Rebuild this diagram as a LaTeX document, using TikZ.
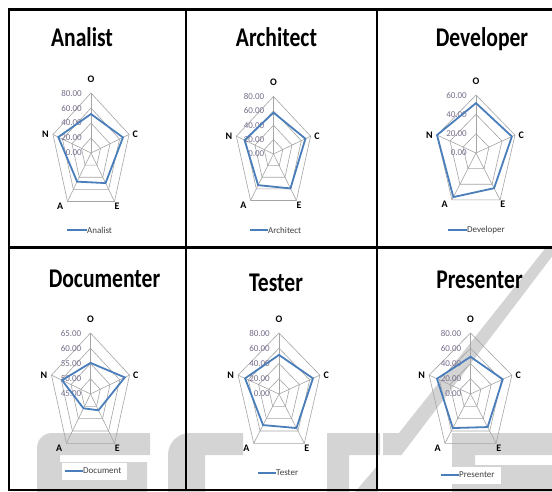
\documentclass[tikz,border=0pt]{standalone}
\usepackage{fontspec}
\setmainfont{Carlito}
\definecolor{serblue}{RGB}{74,126,187}
\definecolor{gridgray}{RGB}{165,165,165}
\definecolor{ticktext}{RGB}{120,110,140}
\definecolor{wmgray}{RGB}{212,212,212}
\tikzset{
  border/.style={line width=2.4pt, draw=black},
  gridline/.style={draw=gridgray, line width=0.6pt},
  series/.style={draw=serblue, line width=1.8pt, line join=miter},
  charttitle/.style={font=\fontsize{27}{30}\selectfont\bfseries, xscale=0.8, inner sep=0pt, anchor=base},
  axislab/.style={font=\fontsize{10}{11}\selectfont\bfseries, inner sep=1pt},
  ticklab/.style={font=\fontsize{9}{10}\selectfont, text=ticktext, anchor=east, inner sep=0pt, xshift=-9pt},
  legtext/.style={font=\fontsize{9}{10}\selectfont, text=black!75, anchor=west, inner sep=0pt},
  watermark/.style={fill=wmgray, draw=none},
}
\newcommand\radargrid[1]{%
  \foreach \k in {1,...,#1}{%
    \draw[gridline] (90:\k/#1) -- (18:\k/#1) -- (-54:\k/#1) -- (-126:\k/#1) -- (162:\k/#1) -- cycle;}%
  \foreach \a in {90,18,-54,-126,162} \draw[gridline] (0,0) -- (\a:1);%
}
\newcommand\radaxes[1]{%
  \node[axislab, anchor=south, yshift=9.5pt] (#1O) at (90:1) {O};
  \node[axislab, anchor=west, xshift=2.5pt] (#1C) at (18:1) {C};
  \node[axislab, anchor=north west, xshift=-1pt] (#1E) at (-54:1) {E};
  \node[axislab, anchor=north east, xshift=-3pt] (#1A) at (-126:1) {A};
  \node[axislab, anchor=east, xshift=-3pt] (#1N) at (162:1) {N};
}
\newcommand\radarseries[5]{%
  \draw[series] (90:#1) -- (18:#2) -- (-54:#3) -- (-126:#4) -- (162:#5) -- cycle;
}
\begin{document}
\begin{tikzpicture}[x=1pt,y=-1pt]
\useasboundingbox (0,0) rectangle (552,492);
\fill[white] (0,0) rectangle (552,492);

% ---------- watermark ----------
% S
\fill[watermark] (150,433) -- (52,433) to[out=180,in=90] (37,448) -- (37,492) -- (147,492) -- (147,462) -- (60,462) -- (60,455) -- (150,455) -- cycle;
% C
\fill[watermark] (168,492) -- (168,455) to[out=90,in=180] (190,433) -- (243,433) -- (243,455) -- (205,455) -- (205,492) -- cycle;
% T
\fill[watermark] (327,492) -- (327,433) -- (380,433) -- (380,455) -- (349,455) -- (349,492) -- cycle;
\fill[watermark] (355,492) -- (378,465) -- (378,492) -- cycle;
% slash
\fill[watermark] (545.5,248) -- (558.5,248) -- (401.5,455) -- (383,455) -- (383,433) -- (399,433) -- cycle;
% E
\fill[watermark] (452,492) -- (452,433) -- (552,433) -- (552,455) -- (475,455) -- (475,465) -- (552,465) -- (552,492) -- cycle;

% ---------- titles ----------
\node[charttitle] (tAn) at (82,47) {Analist};
\node[charttitle] (tAr) at (276.5,47) {Architect};
\node[charttitle] (tDe) at (482,47) {Developer};
\node[charttitle] (tDo) at (104.5,287) {Documenter};
\node[charttitle] (tTe) at (276,291) {Tester};
\node[charttitle] (tPr) at (479.5,288) {Presenter};

% ---------- Analist ----------
\begin{scope}[shift={(91,153)}, x=40pt, y=60pt]
  \radargrid{4}
  \foreach \i/\t in {0/0.00,1/20.00,2/40.00,3/60.00,4/80.00} \node[ticklab] (anT\i) at (0,\i/4) {\t};
  \radaxes{an}
  \radarseries{.65}{.84}{.62}{.59}{.86}
\end{scope}
% ---------- Architect ----------
\begin{scope}[shift={(273.5,154)}, x=39pt, y=57.5pt]
  \radargrid{4}
  \foreach \i/\t in {0/0.00,1/20.00,2/40.00,3/60.00,4/80.00} \node[ticklab] (arT\i) at (0,\i/4) {\t};
  \radaxes{ar}
  \radarseries{.72}{.86}{.74}{.67}{.78}
\end{scope}
% ---------- Developer ----------
\begin{scope}[shift={(476,153)}, x=41pt, y=58pt]
  \radargrid{3}
  \foreach \i/\t in {0/0.00,1/20.00,2/40.00,3/60.00} \node[ticklab] (deT\i) at (0,\i/3) {\t};
  \radaxes{de}
  \radarseries{.86}{.92}{.75}{.94}{1.0}
\end{scope}
% ---------- Documenter ----------
\begin{scope}[shift={(90.5,394)}, x=41pt, y=61pt]
  \radargrid{4}
  \foreach \i/\t in {0/45.00,1/50.00,2/55.00,3/60.00,4/65.00} \node[ticklab] (doT\i) at (0,\i/4) {\t};
  \radaxes{do}
  \radarseries{.51}{.88}{.33}{.29}{.73}
\end{scope}
% ---------- Tester ----------
\begin{scope}[shift={(279,394)}, x=43pt, y=61pt]
  \radargrid{4}
  \foreach \i/\t in {0/0.00,1/20.00,2/40.00,3/60.00,4/80.00} \node[ticklab] (teT\i) at (0,\i/4) {\t};
  \radaxes{te}
  \radarseries{.64}{.83}{.69}{.63}{.83}
\end{scope}
% ---------- Presenter ----------
\begin{scope}[shift={(470.5,394)}, x=43.5pt, y=61pt]
  \radargrid{4}
  \foreach \i/\t in {0/0.00,1/20.00,2/40.00,3/60.00,4/80.00} \node[ticklab] (prT\i) at (0,\i/4) {\t};
  \radaxes{pr}
  \radarseries{.61}{.78}{.67}{.69}{.81}
\end{scope}

% ---------- legends ----------
\fill[white] (62,463) rectangle (127,480);
\fill[white] (254,465) rectangle (304,482);
\fill[white] (437,467) rectangle (501,484);
\coordinate (lgAnS) at (67,230);
\node[legtext] (lgAn) at (87,230) {Analist};
\draw[serblue, line width=1.8pt] (lgAnS) -- (lgAn.west);
\coordinate (lgArS) at (250,230);
\node[legtext] (lgAr) at (268,230) {Architect};
\draw[serblue, line width=1.8pt] (lgArS) -- (lgAr.west);
\coordinate (lgDeS) at (448,230);
\node[legtext] (lgDe) at (467,230) {Developer};
\draw[serblue, line width=1.8pt] (lgDeS) -- (lgDe.west);
\coordinate (lgDoS) at (65,471);
\node[legtext] (lgDo) at (83,471) {Document};
\draw[serblue, line width=1.8pt] (lgDoS) -- (lgDo.west);
\coordinate (lgTeS) at (258,473);
\node[legtext] (lgTe) at (276,473) {Tester};
\draw[serblue, line width=1.8pt] (lgTeS) -- (lgTe.west);
\coordinate (lgPrS) at (441,475);
\node[legtext] (lgPr) at (459,475) {Presenter};
\draw[serblue, line width=1.8pt] (lgPrS) -- (lgPr.west);

% ---------- frame ----------
\draw[border] (9,9.5) -- (556,9.5);
\draw[border] (9,247.5) -- (556,247.5);
\draw[border] (9,490) -- (556,490);
\draw[border] (9,8.3) -- (9,491.2);
\draw[border] (186,8.3) -- (186,491.2);
\draw[border] (377,8.3) -- (377,491.2);
\end{tikzpicture}
\end{document}
